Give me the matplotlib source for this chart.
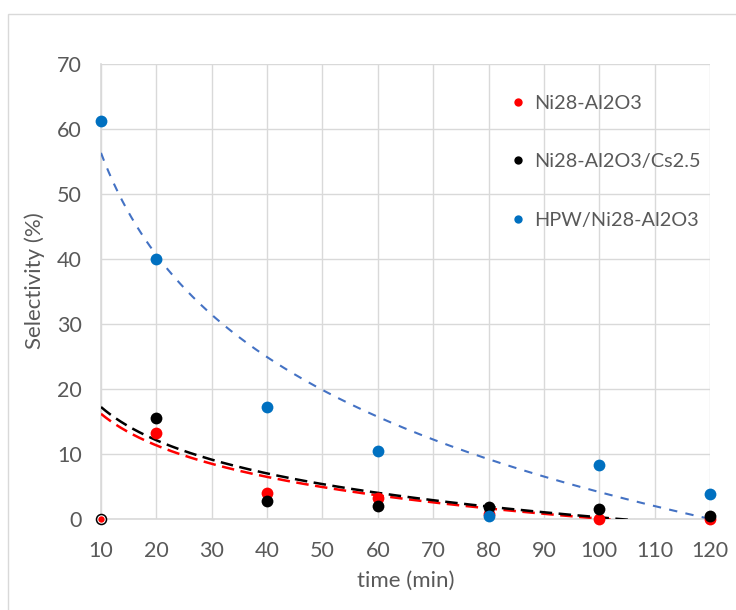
import numpy as np
import matplotlib
matplotlib.use("Agg")
import matplotlib.pyplot as plt
from matplotlib.patches import Rectangle

plt.rcParams['font.family'] = ['Lato', 'DejaVu Sans']

# Selectivity (%) versus reaction time (min)
labels = ["Ni28-Al2O3", "Ni28-Al2O3/Cs2.5", "HPW/Ni28-Al2O3"]
colors = ["#FF0000", "#000000", "#0070C0"]
trend_colors = ["#FF0000", "#000000", "#4472C4"]

time_ni = [20, 40, 60, 80, 100, 120]
sel_ni = [13.2, 4.0, 3.3, 0.8, 0.0, 0.0]

time_cs = [20, 40, 60, 80, 100, 120]
sel_cs = [15.5, 2.7, 2.0, 1.8, 1.5, 0.5]

time_hpw = [10, 20, 40, 60, 80, 100, 120]
sel_hpw = [61.3, 40.0, 17.2, 10.5, 0.5, 8.3, 3.8]

# Logarithmic trendlines y = a*ln(x) + b
trend_a = [-7.0, -7.37, -22.66]
trend_b = [32.3, 34.2, 108.5]

# Zero reading at t = 10 min
zero_time = [10]
zero_sel = [0.0]

xticks = list(range(10, 121, 10))
yticks = list(range(0, 71, 10))

W, H = 736, 610
fig = plt.figure(figsize=(W / 100, H / 100), dpi=100)
fig.patch.set_facecolor("white")

# outer chart border
fig.patches.append(Rectangle((8 / W, -0.05), 1.2, (610 - 14) / H + 0.05,
                             transform=fig.transFigure, fill=False,
                             edgecolor="#d9d9d9", linewidth=1.0))

ax = fig.add_axes([101 / W, (H - 519) / H, (710 - 101) / W, (519 - 64) / H])
ax.set_xlim(10, 120)
ax.set_ylim(0, 70)
ax.set_xticks(xticks)
ax.set_yticks(yticks)

grid_c = "#d9d9d9"
ax.grid(True, color=grid_c, linewidth=1.0)
ax.set_axisbelow(True)
for s in ["top", "right"]:
    ax.spines[s].set_visible(False)
ax.spines["left"].set_color(grid_c)
ax.spines["bottom"].set_color(grid_c)
ax.spines["left"].set_linewidth(1.2)
ax.spines["bottom"].set_linewidth(1.2)

text_c = "#595959"
ax.tick_params(axis="both", length=0, labelsize=15.5, colors=text_c)
ax.tick_params(axis="x", pad=16)
ax.tick_params(axis="y", pad=14)

# trendlines
xs = np.linspace(10, 120, 400)
dash_styles = [(0, (5, 2.6)), (0, (5, 2.6)), (0, (4, 4))]
widths = [1.8, 1.8, 1.5]
for a, b, c, ds, lw in zip(trend_a, trend_b, trend_colors, dash_styles, widths):
    ax.plot(xs, a * np.log(xs) + b, color=c, linestyle=ds, linewidth=lw, zorder=3)

# data points
series = [(time_ni, sel_ni), (time_cs, sel_cs), (time_hpw, sel_hpw)]
for (x, y), c, lab in zip(series, colors, labels):
    ax.plot(x, y, linestyle="none", marker="o", markersize=8.5,
            color=c, markeredgewidth=0, label=lab, zorder=4, clip_on=False)

ax.plot(zero_time, zero_sel, linestyle="none", marker="o", markersize=7.2,
        markerfacecolor="white", markeredgecolor="black", markeredgewidth=1.1,
        zorder=5, clip_on=False)
ax.plot(zero_time, zero_sel, linestyle="none", marker="o", markersize=4.6,
        color="#FF0000", markeredgewidth=0, zorder=6, clip_on=False)

leg = ax.legend(handles=[plt.Line2D([], [], linestyle="none", marker="o",
                                    markersize=6, color=c, markeredgewidth=0)
                         for c in colors],
                labels=labels, loc="upper left",
                bbox_to_anchor=((502 - 101) / (710 - 101), (519 - 85) / (519 - 64)),
                frameon=False, fontsize=14.3, labelspacing=2.08,
                handlelength=0.6, handletextpad=0.5, borderpad=0)
for t in leg.get_texts():
    t.set_color(text_c)

ax.set_xlabel("time (min)", fontsize=16, color=text_c, labelpad=10)
ax.set_ylabel("Selectivity (%)", fontsize=16, color=text_c, labelpad=12)
ax.yaxis.set_label_coords(-(101 - 35) / (710 - 101), (519 - 281) / (519 - 64))
ax.xaxis.set_label_coords((406 - 101) / (710 - 101), -(581 - 519) / (519 - 64))
ax.xaxis.label.set_va("center")
ax.yaxis.label.set_va("center")

fig.savefig("out.png", dpi=100, facecolor="white")
